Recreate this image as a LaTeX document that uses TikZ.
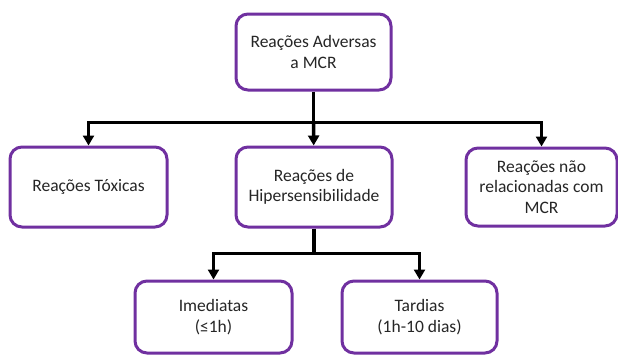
\documentclass[tikz,border=0pt]{standalone}
\usepackage{fontspec}
\setmainfont{Carlito}
\usetikzlibrary{arrows.meta,positioning,calc}
\definecolor{boxpurple}{HTML}{7030A0}

\begin{document}
\begin{tikzpicture}[x=1pt,y=-1pt,
		box/.style={draw=boxpurple,line width=3pt,rounded corners=12pt,fill=white,align=center,inner sep=2pt,font=\fontsize{17.5}{20.5}\selectfont,text=black!85},
		link/.style={line width=3.5pt,black},
		arr/.style={link,-{Triangle[length=10pt,width=11pt]}}]
	\useasboundingbox (0,0) rectangle (618,356);
	\node[box,minimum width=155pt,minimum height=76pt] (adv) at (313.5,52) {Reações Adversas\\a MCR};
	\node[box,minimum width=157pt,minimum height=80pt] (tox) at (88.5,187) {Reações Tóxicas};
	\node[box,minimum width=156pt,minimum height=80pt] (hyp) at (314,187) {Reações de\\Hipersensibilidade};
	\node[box,minimum width=151pt,minimum height=78pt] (nrel) at (541.5,187) {Reações não\\relacionadas com\\MCR};
	\node[box,minimum width=157pt,minimum height=72pt] (imed) at (213.5,317) {Imediatas\\(≤1h)};
	\node[box,minimum width=155pt,minimum height=72pt] (tard) at (419.5,317) {Tardias\\(1h-10 dias)};

	% junctions
	\coordinate (split1) at ($(adv.south)+(0,31)$);
	\coordinate (split2) at ($(hyp.south)+(0,25)$);

	\draw[link] (adv) -- (split1);
	\draw[arr] (split1) -| (tox);
	\draw[arr] (split1) -- (hyp);
	\draw[arr] (split1) -| (nrel);
	\draw[link] (hyp) -- (split2);
	\draw[arr] (split2) -| (imed);
	\draw[arr] (split2) -| (tard);
\end{tikzpicture}
\end{document}
